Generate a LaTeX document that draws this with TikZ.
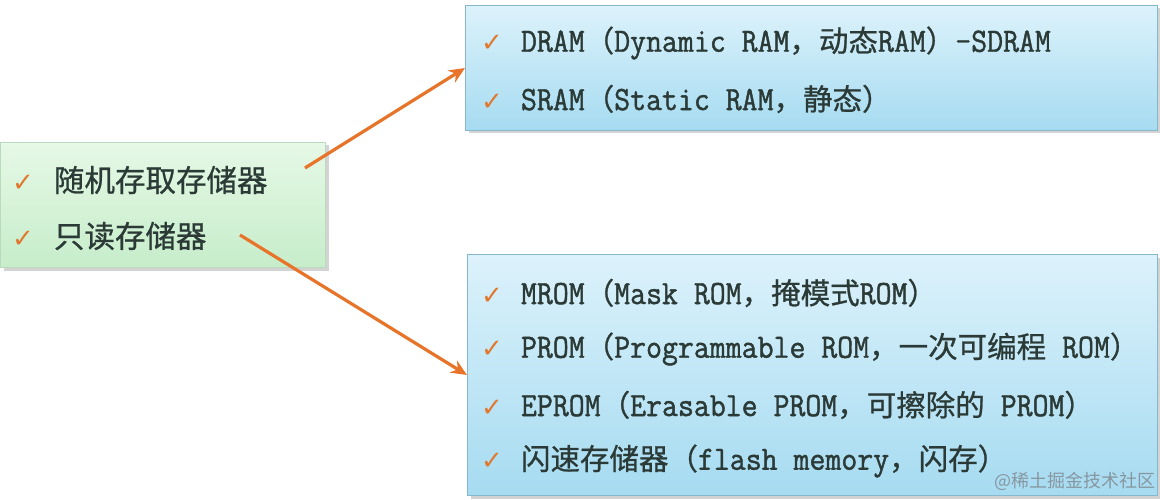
\documentclass[tikz,border=0pt]{standalone}
\usepackage{fontspec}
\setmainfont{Latin Modern Mono}[FakeStretch=0.91, FakeBold=1.2]
\newfontfamily\cjk{Noto Sans CJK SC}[FakeBold=0.8]
\newfontfamily\cjkwm{Noto Sans CJK SC}
\newfontfamily\ckfont{DejaVu Sans}
\usetikzlibrary{arrows.meta,shadows}
\definecolor{txt}{HTML}{2B3A36}
\definecolor{chk}{HTML}{E0782F}
\definecolor{arr}{HTML}{E8742A}
\definecolor{bluetop}{HTML}{DCF2FB}
\definecolor{bluebot}{HTML}{A6DBF1}
\definecolor{blueedge}{HTML}{86B7CC}
\definecolor{greentop}{HTML}{E6F8E6}
\definecolor{greenbot}{HTML}{C6EDCA}
\definecolor{greenedge}{HTML}{BBD9BE}
\definecolor{wm}{HTML}{8797A0}
\newcommand\C[1]{{\cjk\fontsize{29.5}{34}\selectfont #1}}
\newcommand\CL[1]{{\cjk\fontsize{30.5}{34}\selectfont #1}}
\newcommand\ck{{\ckfont\fontsize{26}{26}\selectfont\color{chk}✓}}
\tikzset{
  bluebox/.style={draw=blueedge, line width=1pt, top color=bluetop, bottom color=bluebot,
    drop shadow={shadow xshift=3pt, shadow yshift=-3pt, opacity=0.35, fill=gray}},
  greenbox/.style={draw=greenedge, line width=1pt, top color=greentop, bottom color=greenbot,
    drop shadow={shadow xshift=3pt, shadow yshift=-3pt, opacity=0.35, fill=gray}},
  itemline/.style={anchor=west, inner sep=0pt, text=txt, font=\fontsize{34}{38}\selectfont},
  conn/.style={draw=arr, line width=3.2pt, -{Stealth[length=16pt,width=14pt]}},
}
\begin{document}
\begin{tikzpicture}[x=1pt,y=-1pt]
\useasboundingbox (0,0) rectangle (1160,500);
% boxes
\node[greenbox, minimum width=325pt, minimum height=125pt, anchor=north west, inner sep=0pt] (left) at (0,142) {};
\node[bluebox, minimum width=692pt, minimum height=125pt, anchor=north west, inner sep=0pt] (top) at (465,5) {};
\node[bluebox, minimum width=690pt, minimum height=241pt, anchor=north west, inner sep=0pt] (bot) at (467,254) {};
% left items
\node[itemline] (l1) at (12,180) {\ck\hspace{20pt}\CL{随机存取存储器}};
\node[itemline] (l2) at (12,236) {\ck\hspace{20pt}\CL{只读存储器}};
% top items
\node[itemline] (t1) at (481,43) {\ck\hspace{18pt}DRAM\C{（}Dynamic RAM\C{，动态}RAM\C{）}-SDRAM};
\node[itemline] (t2) at (481,99) {\ck\hspace{18pt}SRAM\C{（}Static RAM\C{，静态）}};
% bottom items
\node[itemline] (b1) at (481,293) {\ck\hspace{18pt}MROM\C{（}Mask ROM\C{，掩模式}ROM\C{）}};
\node[itemline] (b2) at (481,349) {\ck\hspace{18pt}PROM\C{（}Programmable ROM\C{，一次可编程} ROM\C{）}};
\node[itemline] (b3) at (481,405) {\ck\hspace{18pt}EPROM\C{（}Erasable PROM\C{，可擦除的} PROM\C{）}};
\node[itemline] (b4) at (481,461) {\ck\hspace{18pt}\C{闪速存储器（}flash memory\C{，闪存）}};
% watermark
\node[anchor=east, inner sep=0pt, text=wm, font=\cjkwm\fontsize{18}{20}\selectfont] (wmk) at (1156,481) {@稀土掘金技术社区};
% connectors
\coordinate (s1) at (305,168);
\coordinate (s2) at (240,235);
\draw[conn] (s1) -- (top.west);
\draw[conn] (s2) -- (bot.west);
\end{tikzpicture}
\end{document}
